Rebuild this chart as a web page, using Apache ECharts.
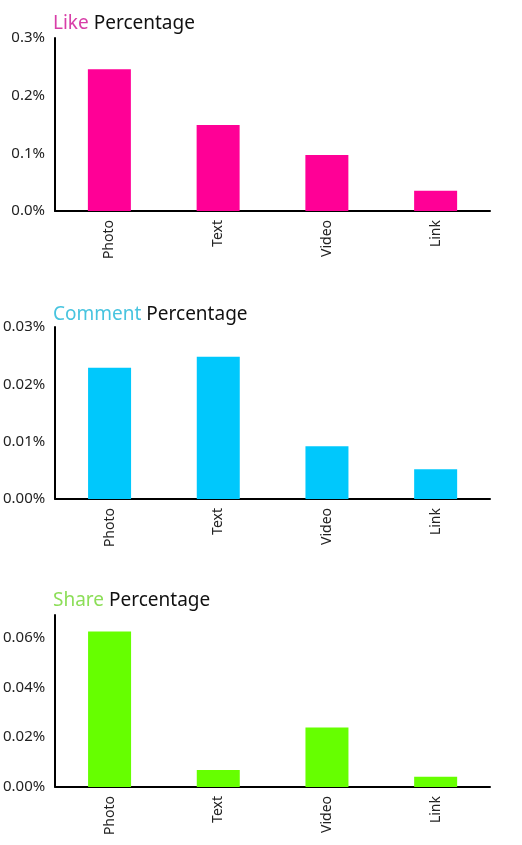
<!DOCTYPE html>
<html>
<head>
<meta charset="utf-8">
<script src="https://cdn.jsdelivr.net/npm/echarts@6/dist/echarts.min.js"></script>
<style>
  html, body { margin: 0; padding: 0; background: #fff; }
  #main { width: 522px; height: 845px; }
</style>
</head>
<body>
<div id="main"></div>
<script>
// categories shared by all three panels
const categories = ['Photo', 'Text', 'Video', 'Link'];

// values in percent
const likeValues = [0.246, 0.149, 0.097, 0.035];
const commentValues = [0.0229, 0.0248, 0.0092, 0.0052];
const shareValues = [0.0624, 0.0068, 0.0239, 0.0041];

// title words
const titleWords = ['Like', 'Comment', 'Share'];

const fontFamily = '"Noto Sans", Lato, sans-serif';
const barColors = ['#ff0096', '#00c8fc', '#66ff00'];
const titleColors = ['#d83ea8', '#47c4df', '#8cde58'];

// panel layout
const panels = [
    { top: 38, height: 173, max: 0.3, interval: 0.1, digits: 1, data: likeValues },
    { top: 327, height: 172, max: 0.03, interval: 0.01, digits: 2, data: commentValues },
    { top: 615, height: 172, max: 0.069, interval: 0.02, digits: 2, data: shareValues }
];
const titleTops = [9, 300, 586];

let myChart = echarts.init(document.getElementById('main'), null, { renderer: 'canvas' });

let option = {
    animation: false,
    backgroundColor: '#fff',
    title: panels.map((p, i) => ({
        left: 48,
        top: titleTops[i],
        text: '{c|' + titleWords[i] + '} {k|Percentage}',
        textStyle: {
            fontWeight: 'normal',
            rich: {
                c: { color: titleColors[i], fontSize: 19, fontWeight: 'normal', fontFamily: fontFamily },
                k: { color: '#111', fontSize: 19, fontWeight: 'normal', fontFamily: fontFamily }
            }
        }
    })),
    grid: panels.map(p => ({
        left: 55,
        right: 32,
        top: p.top,
        height: p.height,
        containLabel: false
    })),
    xAxis: panels.map((p, i) => ({
        type: 'category',
        gridIndex: i,
        data: categories,
        axisLine: { show: true, lineStyle: { color: '#000', width: 2 } },
        axisTick: { show: false },
        splitLine: { show: false },
        axisLabel: {
            rotate: 90,
            margin: 9,
            interval: 0,
            color: '#222',
            fontSize: 14,
            fontFamily: fontFamily
        }
    })),
    yAxis: panels.map((p, i) => ({
        type: 'value',
        gridIndex: i,
        min: 0,
        max: p.max,
        interval: p.interval,
        axisLine: { show: true, lineStyle: { color: '#000', width: 2 } },
        axisTick: { show: false },
        splitLine: { show: false },
        axisLabel: {
            margin: 10,
            color: '#222',
            fontSize: 15,
            fontFamily: fontFamily,
            showMaxLabel: i === 2 ? false : true,
            formatter: v => v.toFixed(p.digits) + '%'
        }
    })),
    series: panels.map((p, i) => ({
        type: 'bar',
        xAxisIndex: i,
        yAxisIndex: i,
        data: p.data,
        barWidth: 43,
        itemStyle: { color: barColors[i] }
    }))
};
myChart.setOption(option);
</script>
</body>
</html>
